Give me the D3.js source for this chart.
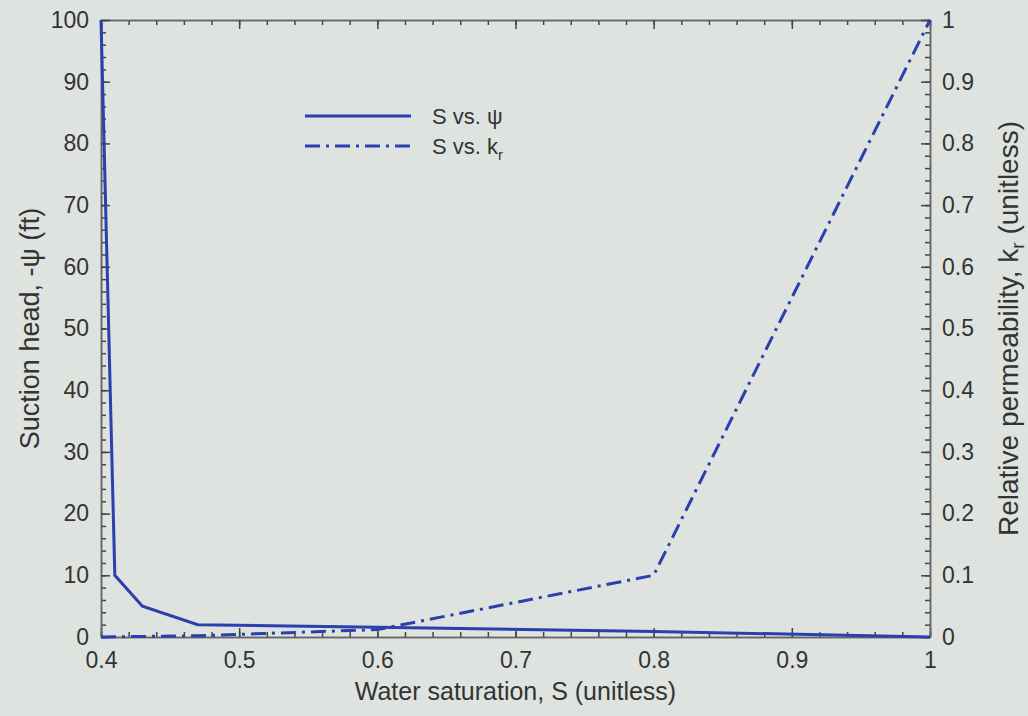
<!DOCTYPE html>
<html>
<head>
<meta charset="utf-8">
<script src="https://cdn.jsdelivr.net/npm/d3@7"></script>
<style>
  html, body { margin: 0; padding: 0; background: #dee3df; }
  text { font-family: "Liberation Sans", Arial, sans-serif; fill: #333; }
</style>
</head>
<body>
<div class="chart"></div>
<script>
// water saturation vs suction head
const satPsi = [0.4, 0.41, 0.43, 0.47, 0.6, 0.8, 1.0];
const psiVals = [100, 10, 5, 2, 1.6, 0.9, 0];
// water saturation vs relative permeability
const satKr = [0.4, 0.47, 0.6, 0.8, 1.0];
const krVals = [0, 0.002, 0.012, 0.1, 1];

const xTicks = [0.4, 0.5, 0.6, 0.7, 0.8, 0.9, 1];
const yLeftTicks = [0, 10, 20, 30, 40, 50, 60, 70, 80, 90, 100];
const yRightTicks = [0, 0.1, 0.2, 0.3, 0.4, 0.5, 0.6, 0.7, 0.8, 0.9, 1];

const width = 1028, height = 716;
const margin = {top: 20, right: 98, bottom: 79, left: 101};
const w = width - margin.left - margin.right;
const h = height - margin.top - margin.bottom;
const blue = '#2b3fae';

const svg = d3.select('.chart').append('svg')
  .attr('width', width).attr('height', height);

svg.append('rect').attr('width', width).attr('height', height).attr('fill', '#dee3df');

const g = svg.append('g').attr('transform', `translate(${margin.left},${margin.top})`);

const x = d3.scaleLinear().domain([0.4, 1]).range([0, w]);
const yL = d3.scaleLinear().domain([0, 100]).range([h, 0]);
const yR = d3.scaleLinear().domain([0, 1]).range([h, 0]);

const fmt = d => d3.format('~g')(d);
const xMinor = d3.range(0.4, 1.0001, 0.02);
const yLMinor = d3.range(0, 100.001, 2);
const yRMinor = d3.range(0, 1.0001, 0.02);

function styleAxis(sel){
  sel.selectAll('.domain').attr('stroke', '#666').attr('stroke-width', 1.5);
  sel.selectAll('.tick line').attr('stroke', '#444').attr('stroke-width', 1.5);
  sel.selectAll('.tick text').style('font-size', '23px').attr('fill', '#333');
}

// minor ticks
g.append('g').attr('transform', `translate(0,${h})`)
  .call(d3.axisBottom(x).tickValues(xMinor).tickSize(-5).tickFormat('').tickSizeOuter(0))
  .call(styleAxis);
g.append('g')
  .call(d3.axisTop(x).tickValues(xMinor).tickSize(-5).tickFormat('').tickSizeOuter(0))
  .call(styleAxis);
g.append('g')
  .call(d3.axisLeft(yL).tickValues(yLMinor).tickSize(-5).tickFormat('').tickSizeOuter(0))
  .call(styleAxis);
g.append('g').attr('transform', `translate(${w},0)`)
  .call(d3.axisRight(yR).tickValues(yRMinor).tickSize(-5).tickFormat('').tickSizeOuter(0))
  .call(styleAxis);

// major ticks
g.append('g').attr('transform', `translate(0,${h})`)
  .call(d3.axisBottom(x).tickValues(xTicks).tickSize(-9).tickPadding(15).tickFormat(fmt).tickSizeOuter(0))
  .call(styleAxis);
g.append('g')
  .call(d3.axisTop(x).tickValues(xTicks).tickSize(-9).tickFormat('').tickSizeOuter(0))
  .call(styleAxis);
g.append('g')
  .call(d3.axisLeft(yL).tickValues(yLeftTicks).tickSize(-9).tickPadding(12).tickFormat(fmt).tickSizeOuter(0))
  .call(styleAxis);
g.append('g').attr('transform', `translate(${w},0)`)
  .call(d3.axisRight(yR).tickValues(yRightTicks).tickSize(-9).tickPadding(12).tickFormat(fmt).tickSizeOuter(0))
  .call(styleAxis);

// lines
const psiData = satPsi.map((s, i) => ({s: s, v: psiVals[i]}));
const krData = satKr.map((s, i) => ({s: s, v: krVals[i]}));

g.append('path').datum(psiData)
  .attr('fill', 'none').attr('stroke', blue).attr('stroke-width', 3)
  .attr('d', d3.line().x(d => x(d.s)).y(d => yL(d.v)));

g.append('path').datum(krData)
  .attr('fill', 'none').attr('stroke', blue).attr('stroke-width', 3)
  .attr('stroke-dasharray', '15,6,3,6')
  .attr('d', d3.line().x(d => x(d.s)).y(d => yR(d.v)));

// legend
const legend = svg.append('g').attr('transform', 'translate(305,116)');
legend.append('line').attr('x1', 0).attr('x2', 106).attr('y1', 0).attr('y2', 0)
  .attr('stroke', blue).attr('stroke-width', 3);
legend.append('text').attr('x', 127).attr('y', 8).style('font-size', '22px').text('S vs. ψ');
legend.append('line').attr('x1', 0).attr('x2', 106).attr('y1', 30).attr('y2', 30)
  .attr('stroke', blue).attr('stroke-width', 3).attr('stroke-dasharray', '15,6,3,6');
const kt = legend.append('text').attr('x', 127).attr('y', 38).style('font-size', '22px');
kt.append('tspan').text('S vs. k');
kt.append('tspan').attr('dy', 6).style('font-size', '15px').text('r');

// axis titles
svg.append('text').attr('x', margin.left + w / 2).attr('y', 700)
  .attr('text-anchor', 'middle').style('font-size', '25px')
  .text('Water saturation, S (unitless)');

svg.append('text')
  .attr('transform', `translate(39,${margin.top + h / 2}) rotate(-90)`)
  .attr('text-anchor', 'middle').style('font-size', '27px')
  .text('Suction head, -ψ (ft)');

const rt = svg.append('text')
  .attr('transform', `translate(1018,${margin.top + h / 2}) rotate(-90)`)
  .attr('text-anchor', 'middle').style('font-size', '28px');
rt.append('tspan').text('Relative permeability, k');
rt.append('tspan').attr('dy', 6).style('font-size', '19px').text('r');
rt.append('tspan').attr('dy', -6).text(' (unitless)');
</script>
</body>
</html>
